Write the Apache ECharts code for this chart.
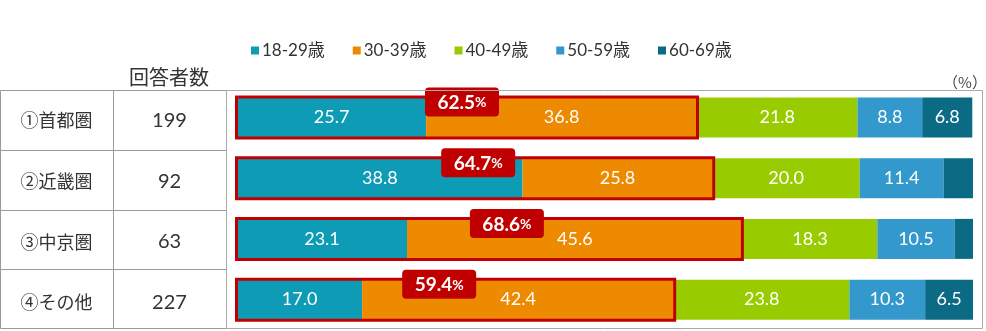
<!DOCTYPE html>
<html>
<head>
<meta charset="utf-8">
<script src="https://cdn.jsdelivr.net/npm/echarts@6/dist/echarts.min.js"></script>
<style>
html,body{margin:0;padding:0;background:#fff;}
#chart{width:986px;height:331px;}
</style>
</head>
<body>
<div id="chart"></div>
<script>
const regions = ['①首都圏', '②近畿圏', '③中京圏', '④その他'];
const counts = [199, 92, 63, 227];
const ageGroups = ['18-29歳', '30-39歳', '40-49歳', '50-59歳', '60-69歳'];
const age18_29 = [25.7, 38.8, 23.1, 17.0];
const age30_39 = [36.8, 25.8, 45.6, 42.4];
const age40_49 = [21.8, 20.0, 18.3, 23.8];
const age50_59 = [8.8, 11.4, 10.5, 10.3];
const age60_69 = [6.8, 4.0, 2.5, 6.5];
const under40Totals = [62.5, 64.7, 68.6, 59.4];

const seriesValues = [age18_29, age30_39, age40_49, age50_59, age60_69];
const colors = ['#0E9BB5', '#EE8A00', '#99CC00', '#3399CC', '#0B6A84'];
const FONT = "Lato, 'Noto Sans CJK JP', sans-serif";
const JP = "'Noto Sans CJK JP', sans-serif";
const RED = '#C00000';

const chart = echarts.init(document.getElementById('chart'), null, {renderer: 'canvas'});

const barSeries = ageGroups.map((name, k) => ({
  name: name,
  type: 'bar',
  stack: 'total',
  barWidth: 40,
  data: seriesValues[k],
  itemStyle: {color: colors[k]},
  label: {
    show: true,
    position: 'inside',
    color: '#fff',
    fontSize: 18,
    fontFamily: FONT,
    formatter: p => (p.value >= 5 ? p.value.toFixed(1) : '')
  },
  emphasis: {disabled: true},
  z: 2
}));

const calloutSeries = {
  type: 'custom',
  name: 'callout',
  z: 10,
  silent: true,
  encode: {x: 0, y: 1},
  data: under40Totals.map((v, i) => [v, i]),
  renderItem: function (params, api) {
    const v = api.value(0);
    const idx = api.value(1);
    const p0 = api.coord([0, idx]);
    const p1 = api.coord([v, idx]);
    const h = 41;
    const top = p0[1] - h / 2;
    const cx = p1[0] - 235;
    const cy = top + 5;
    return {
      type: 'group',
      children: [
        {
          type: 'rect',
          shape: {x: p0[0] - 0.5, y: top, width: p1[0] - p0[0] + 1, height: h},
          style: {fill: 'none', stroke: RED, lineWidth: 3}
        },
        {
          type: 'rect',
          shape: {x: cx - 37, y: cy - 14.5, width: 74, height: 29, r: 4},
          style: {fill: RED}
        },
        {
          type: 'text',
          style: {
            x: cx,
            y: cy + 1,
            text: '{n|' + v.toFixed(1) + '}{p|%}',
            align: 'center',
            verticalAlign: 'middle',
            rich: {
              n: {fontSize: 19, fontWeight: 'bold', fill: '#fff', fontFamily: FONT},
              p: {fontSize: 14, fontWeight: 'bold', fill: '#fff', fontFamily: FONT}
            }
          }
        }
      ]
    };
  }
};

const option = {
  backgroundColor: '#fff',
  animation: false,
  textStyle: {fontFamily: FONT},
  legend: {
    data: ageGroups,
    top: 37,
    left: 246,
    icon: 'rect',
    itemWidth: 8,
    itemHeight: 8,
    itemGap: 28,
    textStyle: {fontSize: 17, color: '#333', fontFamily: FONT, padding: [0, 0, 0, -2]}
  },
  grid: {left: 237, right: 13, top: 87, bottom: 1, containLabel: false},
  xAxis: {
    type: 'value', min: 0, max: 100, show: false
  },
  yAxis: {
    type: 'category',
    inverse: true,
    data: regions,
    axisLine: {show: false},
    axisTick: {show: false},
    splitLine: {show: false},
    axisLabel: {
      margin: 11,
      padding: [6, 0, 0, 0],
      formatter: (val, i) => '{r|' + val + '}{c|' + counts[i] + '}',
      rich: {
        r: {width: 113, align: 'center', fontSize: 18, color: '#333', fontFamily: JP},
        c: {width: 113, align: 'center', fontSize: 20, color: '#333', fontFamily: FONT}
      }
    }
  },
  graphic: [
    {type: 'rect', shape: {x: 0.5, y: 90.5, width: 226, height: 238}, style: {fill: 'none', stroke: '#9a9a9a', lineWidth: 1}, z: 20},
    {type: 'line', shape: {x1: 113.5, y1: 90.5, x2: 113.5, y2: 328.5}, style: {stroke: '#9a9a9a', lineWidth: 1}, z: 20},
    {type: 'line', shape: {x1: 0.5, y1: 150.5, x2: 226.5, y2: 150.5}, style: {stroke: '#9a9a9a', lineWidth: 1}, z: 20},
    {type: 'line', shape: {x1: 0.5, y1: 210.5, x2: 226.5, y2: 210.5}, style: {stroke: '#9a9a9a', lineWidth: 1}, z: 20},
    {type: 'line', shape: {x1: 0.5, y1: 269.5, x2: 226.5, y2: 269.5}, style: {stroke: '#9a9a9a', lineWidth: 1}, z: 20},
    {type: 'rect', shape: {x: 226.5, y: 90.5, width: 756, height: 238}, style: {fill: 'none', stroke: '#aaaaaa', lineWidth: 1}, z: 20},
    {type: 'text', style: {x: 169, y: 77, text: '回答者数', align: 'center', verticalAlign: 'middle', fontSize: 20, fill: '#333', fontFamily: JP}, z: 20},
    {type: 'text', style: {x: 965, y: 82, text: '（%）', align: 'center', verticalAlign: 'middle', fontSize: 15, fill: '#444', fontFamily: JP}, z: 20}
  ],
  series: barSeries.concat([calloutSeries])
};

chart.setOption(option);
</script>
</body>
</html>
